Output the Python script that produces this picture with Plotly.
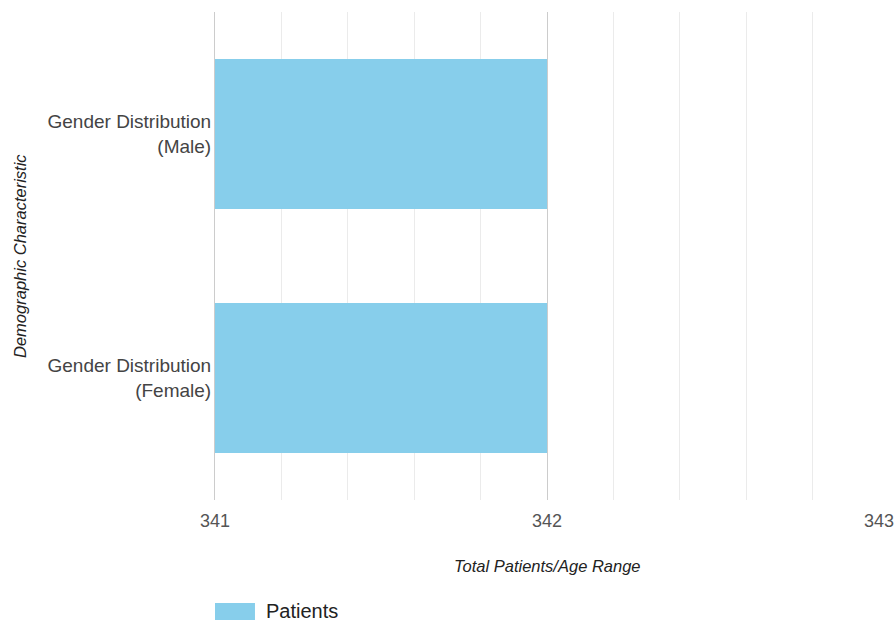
import plotly.graph_objects as go

# Data
categories = ["Gender Distribution<br>(Male)", "Gender Distribution<br>(Female)"]
patients = [342, 342]
series_name = "Patients"
x_title = "Total Patients/Age Range"
y_title = "Demographic Characteristic"

bar_color = "#87CEEB"
font_family = "Arial, 'Liberation Sans', sans-serif"

fig = go.Figure()
fig.add_trace(go.Bar(
    y=categories,
    x=patients,
    orientation="h",
    name=series_name,
    marker=dict(color=bar_color, line=dict(width=0)),
    width=0.615,
    showlegend=False,
))

fig.update_layout(
    width=896,
    height=621,
    margin=dict(l=215, r=17, t=12, b=121),
    paper_bgcolor="white",
    plot_bgcolor="white",
    font=dict(family=font_family, color="#444444"),
    xaxis=dict(
        range=[341, 343],
        dtick=1,
        tick0=341,
        showgrid=True,
        gridcolor="#cccccc",
        gridwidth=1,
        minor=dict(dtick=0.2, showgrid=True, gridcolor="#ebebeb", gridwidth=1),
        zeroline=False,
        showline=False,
        ticks="",
        tickfont=dict(size=18, color="#555555"),
        ticklabelstandoff=8,
        automargin=False,
        fixedrange=True,
    ),
    yaxis=dict(
        categoryorder="array",
        categoryarray=list(reversed(categories)),
        showgrid=False,
        zeroline=False,
        showline=True,
        linecolor="#cccccc",
        linewidth=1,
        ticks="",
        tickfont=dict(size=19, color="#444444"),
        ticklabelstandoff=-1,
        automargin=False,
        fixedrange=True,
    ),
    annotations=[
        dict(text=f"<i>{x_title}</i>", xref="paper", yref="paper", x=0.5, y=-0.135,
             xanchor="center", yanchor="middle", showarrow=False,
             font=dict(size=16.5, color="#222222", family=font_family)),
        dict(text=f"<i>{y_title}</i>", xref="paper", yref="paper", x=-0.2937, y=0.5,
             xanchor="center", yanchor="middle", showarrow=False, textangle=-90,
             font=dict(size=16.5, color="#222222", family=font_family)),
        dict(text=series_name, xref="paper", yref="paper", x=0.0738, y=-0.2275,
             xanchor="left", yanchor="middle", showarrow=False,
             font=dict(size=20, color="#222222", family=font_family)),
    ],
    shapes=[
        dict(type="rect", xref="paper", yref="paper", x0=0.0, x1=0.0602,
             y0=-0.2459, y1=-0.211, fillcolor=bar_color, line=dict(width=0)),
    ],
)

fig.write_html("out.html")
